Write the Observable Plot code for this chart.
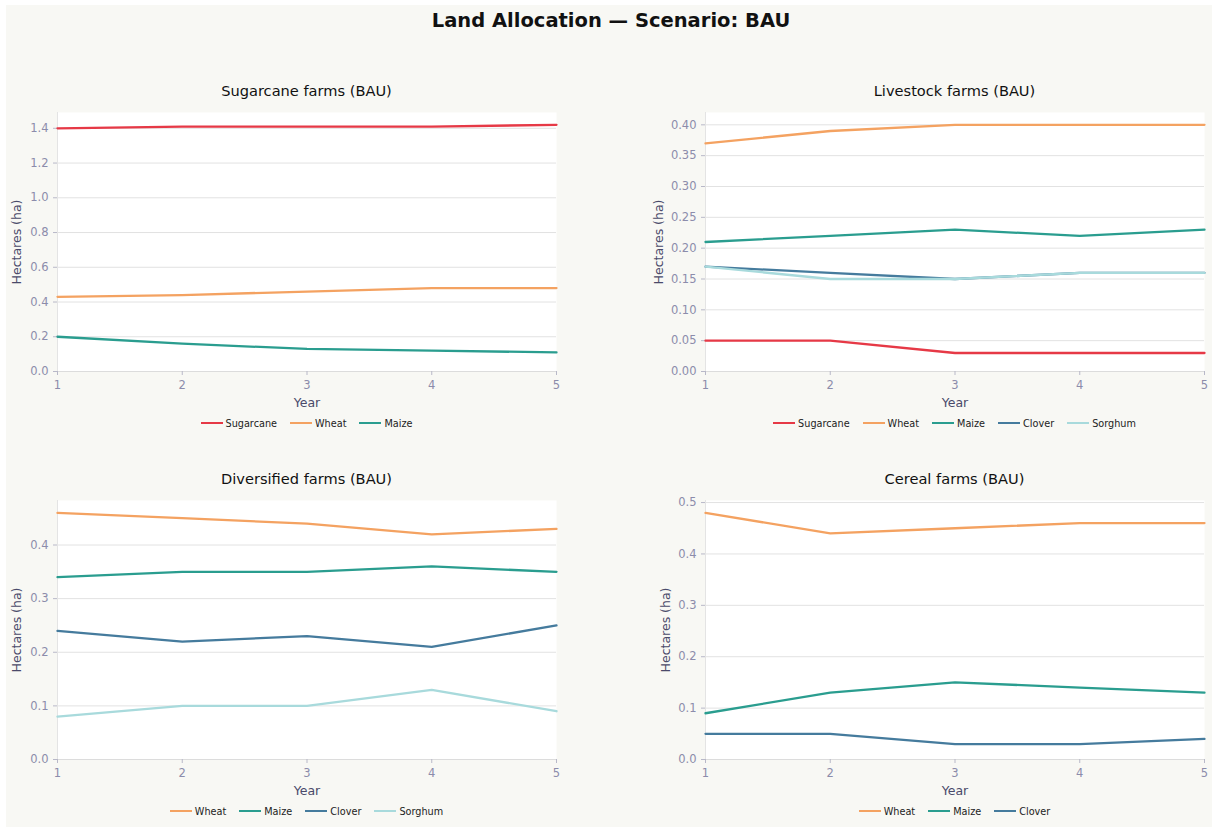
<!DOCTYPE html>
<html>
<head>
<meta charset="utf-8">
<script src="https://cdn.jsdelivr.net/npm/d3@7"></script>
<script src="https://cdn.jsdelivr.net/npm/@observablehq/plot@0.6"></script>
<style>
  html, body { margin: 0; padding: 0; background: #ffffff; width: 1212px; height: 827px; overflow: hidden; }
  body { font-family: "DejaVu Sans", sans-serif; position: relative; }
  #page { position: absolute; left: 6px; top: 5px; width: 1206px; height: 822px; background: #f8f8f4; }
  #title { position: absolute; left: 0; width: 1222px; top: 9px; text-align: center; font-size: 19.5px; font-weight: bold; color: #111; }
  .ptitle { position: absolute; text-align: center; font-size: 14.6px; color: #111; white-space: nowrap; }
  .panel { position: absolute; }
  .legend { position: absolute; display: flex; justify-content: center; align-items: center; gap: 13px; font-size: 9.7px; color: #222; white-space: nowrap; }
  .legend .item { display: flex; align-items: center; }
  .legend .sw { display: inline-block; width: 22px; height: 2.5px; margin-right: 3px; }
</style>
</head>
<body>
<div id="page"></div>
<div id="title">Land Allocation — Scenario: BAU</div>
<div id="root"></div>
<script>
// ---- Data ----
const years = [1, 2, 3, 4, 5];
const cropNames = ["Sugarcane", "Wheat", "Maize", "Clover", "Sorghum"];
const cropColors = ["#e63946", "#f4a261", "#2a9d8f", "#457b9d", "#a8dadc"];

// Sugarcane farms (BAU)
const sugarFarmSugarcane = [1.40, 1.41, 1.41, 1.41, 1.42];
const sugarFarmWheat     = [0.43, 0.44, 0.46, 0.48, 0.48];
const sugarFarmMaize     = [0.20, 0.16, 0.13, 0.12, 0.11];
const sugarTicks = [0, 0.2, 0.4, 0.6, 0.8, 1.0, 1.2, 1.4];

// Livestock farms (BAU)
const liveFarmSugarcane = [0.05, 0.05, 0.03, 0.03, 0.03];
const liveFarmWheat     = [0.37, 0.39, 0.40, 0.40, 0.40];
const liveFarmMaize     = [0.21, 0.22, 0.23, 0.22, 0.23];
const liveFarmClover    = [0.17, 0.16, 0.15, 0.16, 0.16];
const liveFarmSorghum   = [0.17, 0.15, 0.15, 0.16, 0.16];
const liveTicks = [0, 0.05, 0.10, 0.15, 0.20, 0.25, 0.30, 0.35, 0.40];

// Diversified farms (BAU)
const divFarmWheat   = [0.46, 0.45, 0.44, 0.42, 0.43];
const divFarmMaize   = [0.34, 0.35, 0.35, 0.36, 0.35];
const divFarmClover  = [0.24, 0.22, 0.23, 0.21, 0.25];
const divFarmSorghum = [0.08, 0.10, 0.10, 0.13, 0.09];
const divTicks = [0, 0.1, 0.2, 0.3, 0.4];

// Cereal farms (BAU)
const cerFarmWheat  = [0.48, 0.44, 0.45, 0.46, 0.46];
const cerFarmMaize  = [0.09, 0.13, 0.15, 0.14, 0.13];
const cerFarmClover = [0.05, 0.05, 0.03, 0.03, 0.04];
const cerTicks = [0, 0.1, 0.2, 0.3, 0.4, 0.5];

// ---- Panels ----
const panels = [
  { title: "Sugarcane farms (BAU)", series: [["Sugarcane", sugarFarmSugarcane], ["Wheat", sugarFarmWheat], ["Maize", sugarFarmMaize]],
    ticks: sugarTicks, fmt: ".1f", left: 0, top: 100, width: 600, mL: 57, mR: 44, labelOff: 45 },
  { title: "Livestock farms (BAU)", series: [["Sugarcane", liveFarmSugarcane], ["Wheat", liveFarmWheat], ["Maize", liveFarmMaize], ["Clover", liveFarmClover], ["Sorghum", liveFarmSorghum]],
    ticks: liveTicks, fmt: ".2f", left: 606, top: 100, width: 606, mL: 99, mR: 8, labelOff: 51 },
  { title: "Diversified farms (BAU)", series: [["Wheat", divFarmWheat], ["Maize", divFarmMaize], ["Clover", divFarmClover], ["Sorghum", divFarmSorghum]],
    ticks: divTicks, fmt: ".1f", left: 0, top: 488, width: 600, mL: 57, mR: 44, labelOff: 45 },
  { title: "Cereal farms (BAU)", series: [["Wheat", cerFarmWheat], ["Maize", cerFarmMaize], ["Clover", cerFarmClover]],
    ticks: cerTicks, fmt: ".1f", left: 606, top: 488, width: 606, mL: 99, mR: 8, labelOff: 44 }
];

const root = document.getElementById("root");
const mT = 12, frameH = 259, mB = 40;
const tickColor = "#8c8cab";
const labelColor = "#4a4a6a";

for (const p of panels) {
  const data = [];
  for (const [crop, vals] of p.series) {
    vals.forEach((v, i) => data.push({ crop, year: years[i], value: v }));
  }
  const ymax = d3.max(data, d => d.value) * 1.05;
  const fmt = d3.format(p.fmt);
  const H = mT + frameH + mB;

  const chart = Plot.plot({
    width: p.width, height: H,
    marginLeft: p.mL, marginRight: p.mR, marginTop: mT, marginBottom: mB,
    style: { background: "transparent", fontFamily: "DejaVu Sans, sans-serif", fontSize: "11px", overflow: "visible" },
    x: { domain: [1, 5] },
    y: { domain: [0, ymax] },
    color: { domain: cropNames, range: cropColors },
    marks: [
      Plot.frame({ fill: "#ffffff", stroke: null }),
      Plot.gridY(p.ticks, { stroke: "#e2e2e2", strokeOpacity: 1, strokeWidth: 1 }),
      Plot.ruleY([0], { stroke: "#dcdcdc", strokeWidth: 1 }),
      Plot.ruleX([1], { stroke: "#e4e4e4", strokeWidth: 1 }),
      Plot.axisX({ ticks: years, tickFormat: d => String(d), tickSize: 4, tickPadding: 5, stroke: "#b8b8c8", fill: tickColor, label: null, fontSize: 11.5 }),
      Plot.axisX({ ticks: [], label: "Year", labelAnchor: "center", labelOffset: 35, labelArrow: "none", fill: labelColor, fontSize: 12.5 }),
      Plot.axisY({ ticks: p.ticks, tickFormat: fmt, tickSize: 4, tickPadding: 5, stroke: "#b8b8c8", fill: tickColor, label: null, fontSize: 11.5 }),
      Plot.axisY({ ticks: [], label: "Hectares (ha)", labelAnchor: "center", labelOffset: p.labelOff, labelArrow: "none", fill: labelColor, fontSize: 12.5 }),
      Plot.line(data, { x: "year", y: "value", stroke: "crop", z: "crop", strokeWidth: 2.3 })
    ]
  });

  const wrap = document.createElement("div");
  wrap.className = "panel";
  wrap.style.left = p.left + "px";
  wrap.style.top = p.top + "px";
  wrap.appendChild(chart);
  root.appendChild(wrap);

  const frameL = p.left + p.mL;
  const frameR = p.left + p.width - p.mR;
  const cx = (frameL + frameR) / 2;

  const t = document.createElement("div");
  t.className = "ptitle";
  t.textContent = p.title;
  t.style.left = (cx - 200) + "px";
  t.style.width = "400px";
  t.style.top = (p.top - 18) + "px";
  root.appendChild(t);

  const lg = document.createElement("div");
  lg.className = "legend";
  lg.style.left = (cx - 250) + "px";
  lg.style.width = "500px";
  lg.style.top = (p.top + H + 5) + "px";
  lg.style.height = "14px";
  for (const [crop] of p.series) {
    const it = document.createElement("div");
    it.className = "item";
    const sw = document.createElement("span");
    sw.className = "sw";
    sw.style.background = cropColors[cropNames.indexOf(crop)];
    const tx = document.createElement("span");
    tx.textContent = crop;
    it.appendChild(sw);
    it.appendChild(tx);
    lg.appendChild(it);
  }
  root.appendChild(lg);
}
</script>
</body>
</html>
